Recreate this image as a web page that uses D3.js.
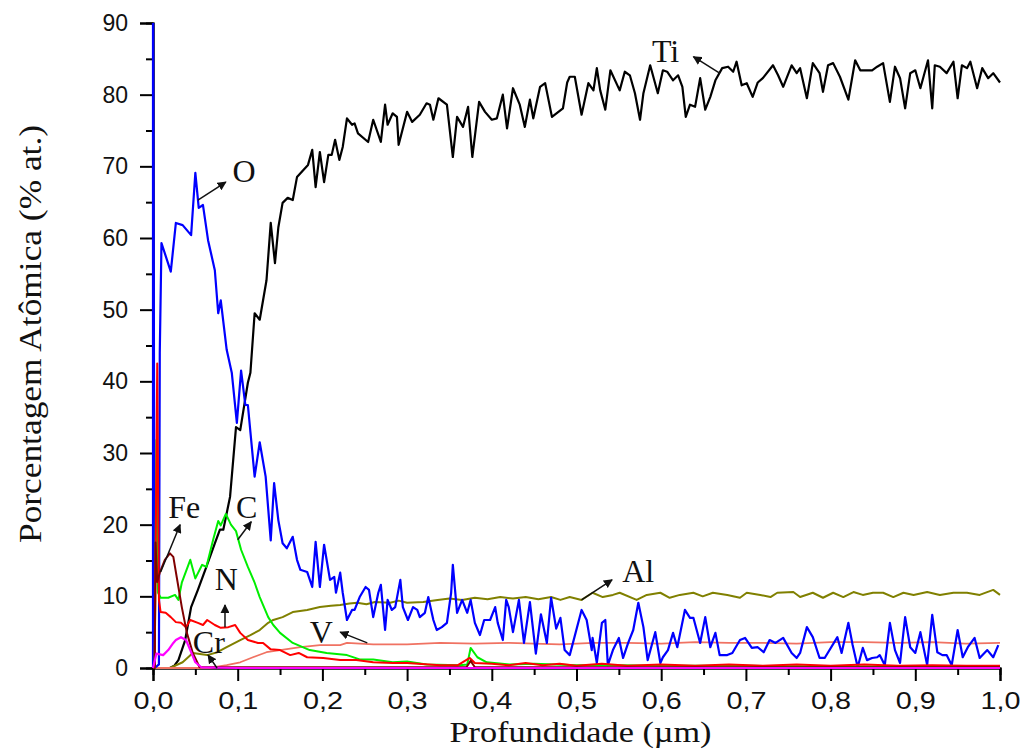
<!DOCTYPE html>
<html>
<head>
<meta charset="utf-8">
<script src="https://cdn.jsdelivr.net/npm/d3@7"></script>
<style>
  html, body { margin: 0; padding: 0; background: #fff; }
  svg { display: block; }
</style>
</head>
<body>
<svg id="chart" width="1021" height="751"></svg>
<script>
// ---------------- DATA ----------------
const xTicks = [0, 0.1, 0.2, 0.3, 0.4, 0.5, 0.6, 0.7, 0.8, 0.9, 1.0];
const xTickLabels = ["0,0", "0,1", "0,2", "0,3", "0,4", "0,5", "0,6", "0,7", "0,8", "0,9", "1,0"];
const yTicks = [0, 10, 20, 30, 40, 50, 60, 70, 80, 90];
const yTickLabels = ["0", "10", "20", "30", "40", "50", "60", "70", "80", "90"];

// [depth (µm), atomic %]
const Ti = [[0,0],[0.02,0],[0.025,0.3],[0.03,1.1],[0.038,3.9],[0.045,8.5],[0.053,10.9],[0.063,14.1],[0.073,17.4],[0.079,19.3],[0.083,19.3],[0.091,23.9],[0.098,33.6],[0.103,33.2],[0.112,39.8],[0.115,41.2],[0.120,49.5],[0.126,48.6],[0.134,54.1],[0.139,62.1],[0.144,56.5],[0.148,61.5],[0.153,64.9],[0.159,65.6],[0.165,65.3],[0.170,68.5],[0.183,70.2],[0.188,72.3],[0.192,67.1],[0.197,72.0],[0.202,67.8],[0.207,71.6],[0.211,71.6],[0.215,73.7],[0.220,70.9],[0.224,72.7],[0.229,76.7],[0.235,75.8],[0.238,76.0],[0.242,74.6],[0.254,73.4],[0.260,76.5],[0.269,73.4],[0.274,78.6],[0.277,75.8],[0.283,77.4],[0.288,76.9],[0.290,73.0],[0.300,77.6],[0.306,76.2],[0.315,77.2],[0.323,78.8],[0.327,78.6],[0.331,76.5],[0.337,79.5],[0.347,78.6],[0.354,71.3],[0.359,76.9],[0.366,75.5],[0.372,78.3],[0.377,71.3],[0.385,79.0],[0.392,77.6],[0.400,76.5],[0.406,76.7],[0.413,80.0],[0.418,75.3],[0.425,80.9],[0.433,78.6],[0.439,75.5],[0.445,79.3],[0.449,76.7],[0.457,81.1],[0.463,81.6],[0.471,76.9],[0.484,78.1],[0.489,81.7],[0.492,82.5],[0.498,82.5],[0.506,77.2],[0.514,81.6],[0.520,80.6],[0.524,83.7],[0.528,80.6],[0.534,77.9],[0.540,83.4],[0.551,80.6],[0.557,83.2],[0.563,82.7],[0.569,80.2],[0.575,76.5],[0.579,80.2],[0.587,84.1],[0.596,80.2],[0.602,83.4],[0.607,83.2],[0.614,82.0],[0.620,82.7],[0.625,81.1],[0.629,76.9],[0.634,78.6],[0.640,78.3],[0.646,82.3],[0.652,77.9],[0.658,79.7],[0.664,82.0],[0.672,83.7],[0.679,83.9],[0.685,83.2],[0.689,84.6],[0.695,81.3],[0.701,81.6],[0.708,79.7],[0.714,81.7],[0.720,82.3],[0.732,84.1],[0.738,82.7],[0.744,81.1],[0.754,84.1],[0.760,83.0],[0.764,83.7],[0.772,79.5],[0.779,84.4],[0.787,83.0],[0.791,80.4],[0.797,84.1],[0.803,84.4],[0.811,82.5],[0.821,79.3],[0.829,84.8],[0.835,83.4],[0.841,83.4],[0.849,83.4],[0.855,83.9],[0.862,84.4],[0.870,79.0],[0.876,83.9],[0.882,82.3],[0.888,78.1],[0.894,83.0],[0.900,83.4],[0.906,80.9],[0.915,84.8],[0.920,78.1],[0.923,84.1],[0.929,83.9],[0.937,83.0],[0.945,84.6],[0.950,79.5],[0.955,84.1],[0.961,83.7],[0.965,84.6],[0.973,80.9],[0.979,83.7],[0.986,82.3],[0.992,83.0],[1.0,81.7]];

const O = [[0,0],[0,100],[0.002,0],[0.007,0.5],[0.008,44],[0.010,59.3],[0.021,55.3],[0.027,62.1],[0.035,61.8],[0.045,60.4],[0.050,69.1],[0.054,64.2],[0.059,64.6],[0.065,59.7],[0.073,55.5],[0.077,49.5],[0.080,51.3],[0.087,44.4],[0.093,41.2],[0.099,34.2],[0.104,41.5],[0.109,36.7],[0.112,36.7],[0.120,26.7],[0.126,31.5],[0.133,26.7],[0.139,17.8],[0.143,25.8],[0.148,20.6],[0.153,17.4],[0.158,16.7],[0.165,18.3],[0.170,15.1],[0.174,13.7],[0.182,13.4],[0.188,11.3],[0.192,17.6],[0.197,11.3],[0.202,17.2],[0.209,12.3],[0.214,12.7],[0.216,10.5],[0.221,13.3],[0.224,10.5],[0.229,6.7],[0.235,8.1],[0.238,8.1],[0.244,9.9],[0.251,11.3],[0.255,10.9],[0.260,7.1],[0.266,10.5],[0.269,11.6],[0.274,5.3],[0.277,9.5],[0.282,8.1],[0.286,8.5],[0.292,12.3],[0.295,8.5],[0.301,6.7],[0.307,8.5],[0.312,8.1],[0.315,7.1],[0.321,7.7],[0.325,9.9],[0.331,6.7],[0.335,5.3],[0.341,5.7],[0.347,6.3],[0.352,10.5],[0.354,14.4],[0.359,7.7],[0.365,9.5],[0.371,7.7],[0.375,9.5],[0.380,6.3],[0.386,4.6],[0.391,6.7],[0.398,6.7],[0.404,8.5],[0.407,6.3],[0.413,3.9],[0.417,9.5],[0.420,8.5],[0.425,5.0],[0.432,9.5],[0.438,3.5],[0.445,9.2],[0.452,2.0],[0.458,7.5],[0.465,3.5],[0.470,9.8],[0.476,5.5],[0.481,7.0],[0.486,2.5],[0.492,1.8],[0.506,8.1],[0.512,6.7],[0.518,2.5],[0.519,4.2],[0.524,0.7],[0.530,6.3],[0.534,6.7],[0.537,0.4],[0.543,2.5],[0.550,4.2],[0.555,1.4],[0.561,3.5],[0.567,5.3],[0.573,9.1],[0.579,5.7],[0.584,1.1],[0.593,5.0],[0.599,0.7],[0.602,1.5],[0.608,2.5],[0.614,4.9],[0.619,2.9],[0.628,8.1],[0.634,7.0],[0.638,7.0],[0.646,3.5],[0.652,7.1],[0.658,2.9],[0.664,4.9],[0.669,1.8],[0.678,1.8],[0.684,2.1],[0.693,3.9],[0.699,4.2],[0.707,2.8],[0.714,2.9],[0.721,2.2],[0.728,3.9],[0.735,3.5],[0.744,4.2],[0.754,2.1],[0.760,1.4],[0.764,2.1],[0.772,5.7],[0.779,4.3],[0.787,1.4],[0.793,1.4],[0.808,4.3],[0.813,2.1],[0.821,6.3],[0.826,3.2],[0.832,0.1],[0.838,2.8],[0.843,1.1],[0.849,1.4],[0.855,1.5],[0.858,1.8],[0.864,0.4],[0.870,6.3],[0.876,2.5],[0.882,0.7],[0.888,7.1],[0.894,2.9],[0.900,2.1],[0.906,5.0],[0.914,0.4],[0.920,7.4],[0.926,2.2],[0.932,1.8],[0.937,1.8],[0.943,0.4],[0.950,5.3],[0.956,1.5],[0.962,2.9],[0.970,4.2],[0.976,1.4],[0.985,2.5],[0.992,1.5],[0.998,3.2]];

const Al = [[0,0],[0.02,0],[0.035,0.8],[0.047,2.1],[0.064,1.8],[0.076,2.2],[0.087,2.9],[0.103,3.9],[0.115,4.6],[0.126,5.3],[0.136,6.3],[0.142,6.7],[0.153,7.1],[0.165,7.8],[0.182,8.1],[0.197,8.5],[0.210,8.7],[0.221,8.8],[0.232,9.0],[0.241,9.1],[0.252,8.9],[0.262,9.2],[0.280,9.1],[0.290,9.4],[0.300,9.1],[0.319,9.2],[0.336,9.5],[0.350,9.7],[0.365,9.5],[0.380,9.8],[0.395,9.6],[0.410,9.9],[0.425,9.7],[0.440,9.9],[0.455,9.6],[0.470,9.9],[0.481,9.5],[0.492,9.9],[0.506,9.5],[0.519,10.5],[0.531,9.9],[0.543,10.2],[0.551,10.5],[0.571,9.5],[0.583,10.2],[0.599,10.5],[0.610,9.8],[0.622,10.2],[0.638,10.5],[0.649,10.0],[0.661,10.5],[0.678,10.2],[0.693,9.8],[0.701,10.5],[0.717,10.2],[0.729,9.9],[0.737,10.5],[0.756,10.6],[0.764,9.9],[0.779,10.5],[0.791,9.8],[0.803,10.5],[0.815,9.9],[0.827,10.6],[0.838,10.2],[0.850,10.5],[0.862,10.5],[0.874,9.9],[0.886,10.5],[0.898,10.2],[0.914,10.6],[0.929,10.2],[0.945,10.5],[0.961,10.5],[0.976,10.2],[0.992,10.9],[1.0,10.2]];

const V = [[0,0],[0.067,0],[0.087,0.4],[0.103,0.8],[0.118,1.5],[0.134,2.2],[0.150,2.5],[0.174,2.9],[0.197,3.2],[0.221,3.2],[0.229,3.5],[0.26,3.3],[0.30,3.3],[0.339,3.5],[0.38,3.4],[0.42,3.5],[0.48,3.3],[0.52,3.5],[0.56,3.5],[0.60,3.4],[0.64,3.6],[0.68,3.5],[0.72,3.5],[0.76,3.4],[0.80,3.6],[0.84,3.6],[0.88,3.5],[0.92,3.6],[0.96,3.4],[1.0,3.5]];

const C = [[0,0],[0.002,0],[0.004,31.8],[0.006,10.5],[0.009,9.8],[0.018,9.8],[0.026,10.2],[0.030,9.5],[0.034,11.9],[0.044,15.1],[0.050,12.5],[0.058,14.4],[0.063,14.1],[0.071,17.9],[0.077,20.5],[0.080,19.9],[0.086,21.5],[0.092,20.0],[0.098,19.1],[0.104,16.5],[0.112,14.1],[0.120,11.9],[0.126,9.9],[0.136,7.1],[0.142,6.0],[0.150,4.9],[0.165,3.5],[0.185,2.5],[0.205,2.1],[0.229,1.8],[0.244,1.2],[0.260,1.2],[0.283,0.8],[0.300,0.9],[0.323,0.5],[0.362,0.4],[0.371,0.5],[0.375,2.8],[0.383,1.5],[0.394,0.8],[0.421,0.5],[0.45,0.6],[0.5,0.4],[0.55,0.4],[0.6,0.3],[0.7,0.3],[0.8,0.2],[0.9,0.2],[1.0,0.2]];

const N = [[0,0],[0.002,0],[0.005,42.5],[0.007,9.5],[0.009,7.8],[0.015,7.7],[0.021,7.1],[0.027,6.4],[0.033,6.3],[0.039,5.7],[0.044,6.7],[0.053,6.3],[0.059,6.0],[0.064,6.7],[0.073,6.0],[0.080,5.6],[0.089,5.7],[0.097,6.0],[0.103,4.9],[0.112,3.9],[0.124,3.5],[0.130,3.5],[0.139,2.6],[0.150,2.5],[0.162,1.8],[0.172,2.1],[0.182,1.5],[0.201,1.4],[0.221,1.1],[0.24,1.1],[0.260,0.8],[0.283,0.7],[0.30,0.7],[0.339,0.4],[0.36,0.4],[0.374,1.4],[0.38,0.7],[0.40,0.6],[0.42,0.4],[0.44,0.7],[0.46,0.4],[0.48,0.6],[0.50,0.3],[0.53,0.6],[0.56,0.3],[0.60,0.5],[0.64,0.3],[0.68,0.5],[0.72,0.3],[0.76,0.5],[0.80,0.3],[0.84,0.5],[0.88,0.3],[0.92,0.4],[0.96,0.3],[1.0,0.3]];

const Fe = [[0,0],[0.002,0],[0.003,17.5],[0.005,12],[0.008,13.3],[0.014,15.1],[0.020,16.0],[0.024,15.5],[0.028,12.7],[0.034,8.5],[0.040,4.9],[0.047,2.1],[0.055,0.1],[0.37,0.1],[0.375,1.0],[0.38,0.1],[1.0,0.1]];

const Cr = [[0,0],[0.004,2.0],[0.012,1.8],[0.018,2.5],[0.024,3.5],[0.027,3.9],[0.033,4.3],[0.039,3.9],[0.044,2.5],[0.050,0.8],[0.057,0.1],[0.1,0],[1.0,0]];

// label text, label anchor (data coords), arrow tail, arrow head (data coords)
const labelNames = ["Ti", "O", "Fe", "C", "N", "Cr", "V", "Al"];
const labelPos   = [[0.589, 84.6], [0.094, 67.8], [0.018, 20.9], [0.098, 20.9], [0.073, 10.9], [0.047, 2.1], [0.185, 3.5], [0.554, 12.0]];
const arrowFrom  = [[0.669, 83.0], [0.053, 65.3], [0.009, 13.4], [0.100, 17.9], [0.085, 5.7], [0.0756, 0.0], [0.253, 3.5], [0.506, 9.5]];
const arrowTo    = [[0.638, 85.3], [0.086, 67.8], [0.032, 20.0], [0.116, 20.4], [0.085, 8.8], [0.065, 1.8], [0.221, 5.0], [0.542, 12.3]];

// ---------------- CHART ----------------
const svg = d3.select("#chart");
const margin = {left: 153, right: 21, top: 23, bottom: 83};
const W = 1021, H = 751;
const x = d3.scaleLinear().domain([0, 1]).range([margin.left, W - margin.right]);
const y = d3.scaleLinear().domain([0, 90]).range([H - margin.bottom, margin.top]);

svg.append("defs").append("clipPath").attr("id", "clip")
  .append("rect").attr("x", x(0) - 2).attr("y", y(90)).attr("width", x(1) - x(0) + 4).attr("height", y(0) - y(90) + 2);

svg.append("defs").append("marker").attr("id", "arrow")
  .attr("viewBox", "0 0 10 10").attr("refX", 9).attr("refY", 5)
  .attr("markerWidth", 9).attr("markerHeight", 9).attr("markerUnits", "userSpaceOnUse")
  .attr("orient", "auto")
  .append("path").attr("d", "M0,0 L10,5 L0,10 z").attr("fill", "#111");

// axes
const xAxis = d3.axisBottom(x).tickValues(xTicks).tickFormat((d, i) => xTickLabels[i]).tickSize(13).tickPadding(12);
const xMinor = d3.axisBottom(x).tickValues(d3.range(0.05, 1, 0.1)).tickFormat("").tickSize(7);
const yAxis = d3.axisLeft(y).tickValues(yTicks).tickFormat((d, i) => yTickLabels[i]).tickSize(13).tickPadding(12);
const yMinor = d3.axisLeft(y).tickValues(d3.range(5, 90, 10)).tickFormat("").tickSize(7);

function styleAxis(g) {
  g.select(".domain").attr("stroke", "#000").attr("stroke-width", 2);
  g.selectAll(".tick line").attr("stroke", "#000").attr("stroke-width", 2);
  g.selectAll(".tick text").attr("fill", "#111")
    .style("font-family", "'Liberation Sans', Arial, sans-serif").style("font-size", "23px");
}
const gx = svg.append("g").attr("transform", `translate(0,${y(0)})`).call(xAxis).call(styleAxis);
svg.append("g").attr("transform", `translate(0,${y(0)})`).call(xMinor).call(styleAxis);
const gy = svg.append("g").attr("transform", `translate(${x(0)},0)`).call(yAxis).call(styleAxis);
svg.append("g").attr("transform", `translate(${x(0)},0)`).call(yMinor).call(styleAxis);
gx.selectAll(".tick text").attr("textLength", 40).attr("lengthAdjust", "spacingAndGlyphs");

// axis titles
svg.append("text")
  .attr("x", (x(0) + x(1)) / 2 + 4).attr("y", 742)
  .attr("text-anchor", "middle")
  .attr("textLength", 262).attr("lengthAdjust", "spacingAndGlyphs")
  .style("font-family", "'Liberation Serif', 'Times New Roman', serif").style("font-size", "30px")
  .attr("fill", "#111")
  .text("Profundidade (\u00b5m)");
svg.append("text")
  .attr("transform", `translate(41,${334}) rotate(-90)`)
  .attr("text-anchor", "middle")
  .attr("textLength", 418).attr("lengthAdjust", "spacingAndGlyphs")
  .style("font-family", "'Liberation Serif', 'Times New Roman', serif").style("font-size", "32px")
  .attr("fill", "#111")
  .text("Porcentagem At\u00f4mica (% at.)");

// series
const seriesList = [
  {name: "Ti", data: Ti, color: "#000000", w: 2.2},
  {name: "Al", data: Al, color: "#808000", w: 2},
  {name: "V",  data: V,  color: "#f07262", w: 1.8},
  {name: "O",  data: O,  color: "#0000ff", w: 2.2},
  {name: "C",  data: C,  color: "#00ee00", w: 2},
  {name: "N",  data: N,  color: "#ff0000", w: 2},
  {name: "Fe", data: Fe, color: "#800000", w: 2},
  {name: "Cr", data: Cr, color: "#ff00ff", w: 2.2}
];
const line = d3.line().x(d => x(d[0])).y(d => y(d[1]));
const plot = svg.append("g").attr("clip-path", "url(#clip)");
plot.selectAll("path.series").data(seriesList).join("path")
  .attr("class", "series")
  .attr("d", s => line(s.data))
  .attr("fill", "none")
  .attr("stroke", s => s.color)
  .attr("stroke-width", s => s.w)
  .attr("stroke-linejoin", "round");

// annotations
const ann = svg.append("g");
labelNames.forEach((t, i) => {
  ann.append("line")
    .attr("x1", x(arrowFrom[i][0])).attr("y1", y(arrowFrom[i][1]))
    .attr("x2", x(arrowTo[i][0])).attr("y2", y(arrowTo[i][1]))
    .attr("stroke", "#111").attr("stroke-width", 1.5)
    .attr("marker-end", "url(#arrow)");
  ann.append("text")
    .attr("x", x(labelPos[i][0])).attr("y", y(labelPos[i][1]))
    .style("font-family", "'Liberation Serif', 'Times New Roman', serif").style("font-size", "32px")
    .attr("fill", "#111")
    .text(t);
});
</script>
</body>
</html>
